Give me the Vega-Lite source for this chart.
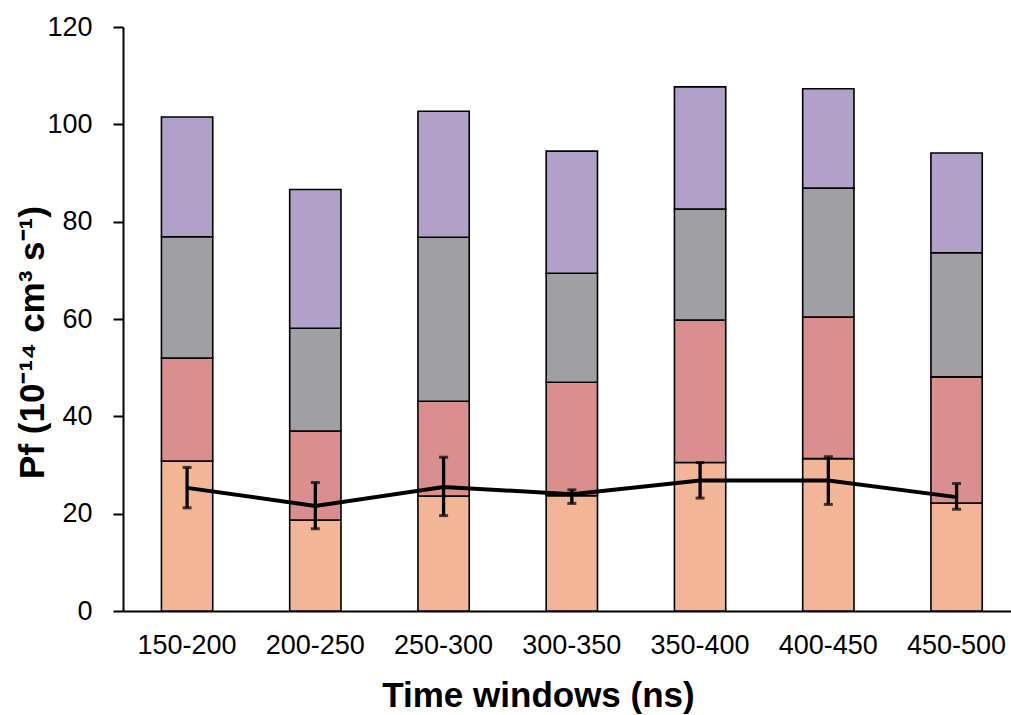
{
  "$schema": "https://vega.github.io/schema/vega-lite/v6.json",
  "width": 888,
  "height": 584,
  "autosize": {"type": "none"},
  "padding": {"left": 123, "top": 27, "right": 0, "bottom": 104},
  "config": {"view": {"stroke": null}, "font": "Liberation Sans"},
  "datasets": {
    "bars": [
      {"window": "150-200", "component": "A", "ord": 1, "value": 30.8},
      {"window": "150-200", "component": "B", "ord": 2, "value": 21.2},
      {"window": "150-200", "component": "C", "ord": 3, "value": 24.9},
      {"window": "150-200", "component": "D", "ord": 4, "value": 24.6},
      {"window": "200-250", "component": "A", "ord": 1, "value": 18.7},
      {"window": "200-250", "component": "B", "ord": 2, "value": 18.3},
      {"window": "200-250", "component": "C", "ord": 3, "value": 21.1},
      {"window": "200-250", "component": "D", "ord": 4, "value": 28.5},
      {"window": "250-300", "component": "A", "ord": 1, "value": 23.6},
      {"window": "250-300", "component": "B", "ord": 2, "value": 19.5},
      {"window": "250-300", "component": "C", "ord": 3, "value": 33.7},
      {"window": "250-300", "component": "D", "ord": 4, "value": 25.9},
      {"window": "300-350", "component": "A", "ord": 1, "value": 23.7},
      {"window": "300-350", "component": "B", "ord": 2, "value": 23.3},
      {"window": "300-350", "component": "C", "ord": 3, "value": 22.4},
      {"window": "300-350", "component": "D", "ord": 4, "value": 25.1},
      {"window": "350-400", "component": "A", "ord": 1, "value": 30.5},
      {"window": "350-400", "component": "B", "ord": 2, "value": 29.3},
      {"window": "350-400", "component": "C", "ord": 3, "value": 22.8},
      {"window": "350-400", "component": "D", "ord": 4, "value": 25.1},
      {"window": "400-450", "component": "A", "ord": 1, "value": 31.3},
      {"window": "400-450", "component": "B", "ord": 2, "value": 29.1},
      {"window": "400-450", "component": "C", "ord": 3, "value": 26.5},
      {"window": "400-450", "component": "D", "ord": 4, "value": 20.4},
      {"window": "450-500", "component": "A", "ord": 1, "value": 22.2},
      {"window": "450-500", "component": "B", "ord": 2, "value": 25.9},
      {"window": "450-500", "component": "C", "ord": 3, "value": 25.5},
      {"window": "450-500", "component": "D", "ord": 4, "value": 20.5}
    ],
    "line": [
      {"window": "150-200", "mean": 25.3, "lo": 21.2, "hi": 29.5},
      {"window": "200-250", "mean": 21.6, "lo": 16.9, "hi": 26.4},
      {"window": "250-300", "mean": 25.5, "lo": 19.6, "hi": 31.6},
      {"window": "300-350", "mean": 24.0, "lo": 22.1, "hi": 24.9},
      {"window": "350-400", "mean": 26.8, "lo": 23.2, "hi": 30.5},
      {"window": "400-450", "mean": 26.8, "lo": 21.9, "hi": 31.7},
      {"window": "450-500", "mean": 23.4, "lo": 20.9, "hi": 26.2}
    ]
  },
  "encoding": {
    "x": {
      "field": "window",
      "type": "nominal",
      "sort": null,
      "scale": {"paddingInner": 0.6, "paddingOuter": 0.262, "align": 0.572},
      "axis": {
        "title": "Time windows (ns)",
        "titleFontSize": 35,
        "titleFontWeight": "bold",
        "titleColor": "#000",
        "titleX": 415,
        "titlePadding": 20,
        "labelFontSize": 27,
        "labelColor": "#000",
        "labelAngle": 0,
        "labelPadding": 21,
        "ticks": false,
        "domainColor": "#000",
        "domainWidth": 2
      }
    }
  },
  "layer": [
    {
      "data": {"name": "bars"},
      "mark": {"type": "bar", "stroke": "#000", "strokeWidth": 1.6},
      "encoding": {
        "y": {
          "field": "value",
          "type": "quantitative",
          "aggregate": "sum",
          "stack": "zero",
          "scale": {"domain": [0, 120], "nice": false},
          "axis": {
            "title": "Pf  (10⁻¹⁴ cm³ s⁻¹)",
            "titleFontSize": 35,
            "titleFontWeight": "bold",
            "titleColor": "#000",
            "titleX": -73,
            "titleY": 315,
            "values": [0, 20, 40, 60, 80, 100, 120],
            "labelFontSize": 27,
            "labelColor": "#000",
            "labelPadding": 21,
            "tickSize": 10,
            "tickColor": "#000",
            "tickWidth": 2,
            "domainColor": "#000",
            "domainWidth": 2,
            "grid": false
          }
        },
        "color": {
          "field": "component",
          "type": "nominal",
          "scale": {"domain": ["A", "B", "C", "D"], "range": ["#F2B595", "#DA8E8E", "#A0A0A4", "#B1A0C7"]},
          "legend": null
        },
        "order": {"field": "ord", "type": "quantitative"}
      }
    },
    {
      "data": {"name": "line"},
      "mark": {"type": "line", "color": "#000", "strokeWidth": 4},
      "encoding": {"y": {"field": "mean", "type": "quantitative"}}
    },
    {
      "data": {"name": "line"},
      "mark": {"type": "rule", "color": "#000", "strokeWidth": 3.3},
      "encoding": {"y": {"field": "lo", "type": "quantitative"}, "y2": {"field": "hi"}}
    },
    {
      "data": {"name": "line"},
      "mark": {"type": "tick", "color": "#000", "thickness": 3, "size": 9},
      "encoding": {"y": {"field": "lo", "type": "quantitative"}}
    },
    {
      "data": {"name": "line"},
      "mark": {"type": "tick", "color": "#000", "thickness": 3, "size": 9},
      "encoding": {"y": {"field": "hi", "type": "quantitative"}}
    }
  ]
}
